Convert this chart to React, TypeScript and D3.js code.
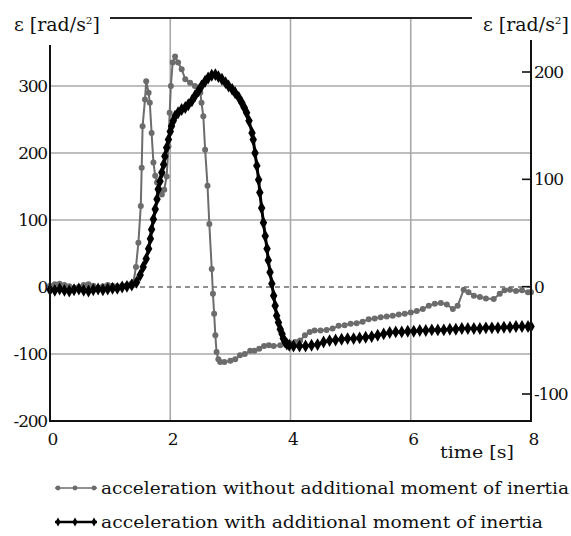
import React from "react";
import * as d3 from "d3";

const timeWithout = [0.0, 0.08, 0.16, 0.24, 0.32, 0.4, 0.48, 0.56, 0.64, 0.72, 0.8, 0.88, 0.96, 1.04, 1.12, 1.2, 1.28, 1.35, 1.39, 1.43, 1.47, 1.51, 1.525, 1.54, 1.58, 1.6, 1.64, 1.66, 1.69, 1.72, 1.75, 1.78, 1.82, 1.86, 1.9, 1.94, 1.97, 1.99, 2.01, 2.04, 2.08, 2.13, 2.19, 2.25, 2.33, 2.41, 2.5, 2.52, 2.55, 2.58, 2.62, 2.65, 2.69, 2.71, 2.73, 2.75, 2.77, 2.8, 2.83, 2.9, 3.0, 3.08, 3.16, 3.24, 3.33, 3.4, 3.48, 3.56, 3.64, 3.72, 3.83, 3.92, 4.0, 4.08, 4.16, 4.24, 4.32, 4.4, 4.5, 4.6, 4.7, 4.8, 4.9, 5.0, 5.1, 5.2, 5.3, 5.4, 5.5, 5.6, 5.7, 5.8, 5.9, 6.0, 6.1, 6.2, 6.3, 6.4, 6.5, 6.6, 6.7, 6.78, 6.88, 6.96, 7.05, 7.15, 7.25, 7.38, 7.48, 7.56, 7.65, 7.75, 7.85, 7.95, 8.0];
const accelWithout = [2, 4, 5, 3, 1, -1, 0, 3, 4, 2, -1, 1, 3, 2, 1, 2, 3, 5, 8, 30, 66, 121, 178, 240, 280, 307, 290, 275, 230, 186, 166, 156, 145, 138, 145, 165, 210, 260, 300, 335, 344, 335, 325, 310, 305, 300, 290, 275, 255, 205, 151, 94, 27, -10, -40, -72, -97, -108, -112, -112, -110, -108, -102, -100, -95, -95, -92, -88, -87, -88, -87, -86, -84, -82, -80, -72, -67, -65, -65, -64, -62, -58, -57, -55, -54, -52, -48, -47, -45, -44, -43, -41, -40, -38, -36, -33, -28, -25, -24, -26, -33, -28, -4, -8, -13, -15, -17, -18, -10, -5, -4, -6, -5, -8, -8];

const timeWith = [0.0, 0.08, 0.16, 0.24, 0.32, 0.4, 0.48, 0.56, 0.64, 0.72, 0.8, 0.88, 0.96, 1.04, 1.12, 1.2, 1.28, 1.36, 1.44, 1.5, 1.55, 1.6, 1.64, 1.67, 1.69, 1.72, 1.75, 1.78, 1.8, 1.83, 1.86, 1.89, 1.91, 1.94, 1.97, 2.0, 2.02, 2.05, 2.08, 2.13, 2.19, 2.25, 2.3, 2.36, 2.41, 2.47, 2.52, 2.58, 2.63, 2.69, 2.75, 2.8, 2.86, 2.92, 2.97, 3.03, 3.08, 3.14, 3.19, 3.23, 3.27, 3.31, 3.36, 3.38, 3.41, 3.44, 3.47, 3.49, 3.52, 3.55, 3.58, 3.61, 3.63, 3.66, 3.69, 3.72, 3.745, 3.77, 3.8, 3.83, 3.86, 3.88, 3.91, 3.94, 3.98, 4.05, 4.15, 4.25, 4.35, 4.45, 4.55, 4.65, 4.75, 4.85, 4.95, 5.05, 5.15, 5.25, 5.35, 5.45, 5.55, 5.65, 5.75, 5.85, 5.95, 6.05, 6.15, 6.25, 6.35, 6.45, 6.55, 6.65, 6.75, 6.85, 6.95, 7.05, 7.15, 7.25, 7.35, 7.45, 7.55, 7.65, 7.75, 7.85, 7.95, 8.0];
const accelWith = [-4, -5, -3, -5, -6, -4, -3, -5, -6, -4, -3, -4, -3, -2, -2, 0, 1, 3, 7, 18, 30, 42, 57, 72, 86, 101, 116, 131, 146, 158, 171, 183, 195, 208, 220, 232, 240, 248, 255, 260, 265, 268, 272, 278, 285, 293, 300, 307, 312, 316, 317, 314, 310, 305, 300, 295, 290, 283, 275, 268, 260, 248, 230, 220, 200, 181, 160, 141, 118, 96, 76, 57, 40, 22, 5, -13, -28, -43, -53, -63, -70, -77, -82, -85, -87, -88, -88, -88, -87, -86, -82, -80, -79, -78, -77, -77, -76, -75, -74, -72, -70, -68, -67, -67, -66, -66, -65, -65, -64, -64, -64, -63, -63, -62, -62, -62, -62, -61, -61, -61, -60, -60, -59, -59, -59, -59];

const xTicks = [0, 2, 4, 6, 8];
const leftTicks = [300, 200, 100, 0, -100, -200];
const leftGrid = [300, 200, 100, -100];
const rightTicks = [200, 100, 0, -100];
const legendLabels = [
  "acceleration without additional moment of inertia",
  "acceleration with additional moment of inertia",
];

const FONT = "DejaVu Serif, Liberation Serif, serif";
const GRAY = "#6c6c6c";
const GRID = "#a8a8a8";

export default function App() {
  const x = d3.scaleLinear().domain([0, 8]).range([50, 531]);
  const yL = d3.scaleLinear().domain([-200, 300]).range([421, 86]);
  const yR = d3.scaleLinear().domain([-100, 200]).range([394, 72]);

  const seriesWithout = timeWithout.map((t, i) => [t, accelWithout[i]] as [number, number]);
  const seriesWith = timeWith.map((t, i) => [t, accelWith[i]] as [number, number]);

  const line = d3
    .line<[number, number]>()
    .x((d) => x(d[0]))
    .y((d) => yL(d[1]));

  const diamond = d3.symbol().type(d3.symbolDiamond).size(48)() as string;
  const smallDiamond = d3.symbol().type(d3.symbolDiamond).size(24)() as string;

  const plotTop = 18;
  const plotBottom = yL(-200);
  const xl = x(0);
  const xr = x(8);
  const ts = { fontFamily: FONT };

  return (
    <svg
      width={571}
      height={536}
      style={{ position: "absolute", left: 0, top: 0, background: "#fff", fontFamily: FONT }}
    >
      <rect x={0} y={0} width={571} height={536} fill="#fff" />
      {xTicks.slice(1, -1).map((t) => (
        <line key={"vg" + t} x1={x(t)} x2={x(t)} y1={plotTop} y2={plotBottom} stroke={GRID} strokeWidth={1.6} />
      ))}
      {leftGrid.map((v) => (
        <line key={"hg" + v} x1={xl} x2={xr} y1={yL(v)} y2={yL(v)} stroke={GRID} strokeWidth={1.6} />
      ))}
      <line x1={xl} x2={xr} y1={yL(0)} y2={yL(0)} stroke={GRAY} strokeWidth={1.6} strokeDasharray="5,4" />

      <path d={line(seriesWithout) as string} fill="none" stroke={GRAY} strokeWidth={2} />
      {seriesWithout.map((d, i) => (
        <circle key={"gw" + i} cx={x(d[0])} cy={yL(d[1])} r={3} fill={GRAY} />
      ))}

      <path d={line(seriesWith) as string} fill="none" stroke="#000" strokeWidth={3} />
      {seriesWith.map((d, i) => (
        <path key={"bw" + i} d={diamond} transform={`translate(${x(d[0])},${yL(d[1])})`} fill="#000" />
      ))}

      <line x1={xl} x2={xl} y1={45} y2={plotBottom + 1} stroke="#111" strokeWidth={2} />
      <line x1={xr} x2={xr} y1={40} y2={plotBottom + 1} stroke="#111" strokeWidth={2} />
      <line x1={xl} x2={xr} y1={plotBottom} y2={plotBottom} stroke="#111" strokeWidth={2} />
      <line x1={110} x2={472} y1={plotTop} y2={plotTop} stroke="#222" strokeWidth={2} />

      {leftTicks.map((v) => (
        <text key={"lt" + v} style={ts} x={47} y={yL(v) + 6} textAnchor="end" fontSize={17} fill="#111" letterSpacing={-1.2}>
          {v}
        </text>
      ))}
      {rightTicks.map((v) => (
        <g key={"rt" + v}>
          <line x1={xr - 9} x2={xr} y1={yR(v)} y2={yR(v)} stroke="#111" strokeWidth={1.6} />
          <text style={ts} x={xr + 3} y={yR(v) + 6} fontSize={17} fill="#111" letterSpacing={-1.2}>
            {v}
          </text>
        </g>
      ))}
      {xTicks.map((t) => (
        <text key={"xt" + t} style={ts} x={x(t) + 3} y={445} textAnchor="middle" fontSize={17} fill="#111">
          {t}
        </text>
      ))}
      <text style={ts} x={440} y={458} fontSize={17} fill="#111" textLength={74} lengthAdjust="spacingAndGlyphs">
        time [s]
      </text>

      <text style={ts} x={14} y={31} fontSize={18} fill="#111" textLength={86} lengthAdjust="spacingAndGlyphs">
        ε [rad/s<tspan dy={-7} fontSize={10}>2</tspan>
        <tspan dy={7}>]</tspan>
      </text>
      <text style={ts} x={483} y={31} fontSize={18} fill="#111" textLength={86} lengthAdjust="spacingAndGlyphs">
        ε [rad/s<tspan dy={-7} fontSize={10}>2</tspan>
        <tspan dy={7}>]</tspan>
      </text>

      {legendLabels.map((label, i) => {
        const ly = 488 + i * 34;
        const color = i === 0 ? GRAY : "#000";
        return (
          <g key={"lg" + i}>
            <line x1={55} x2={97} y1={ly} y2={ly} stroke={color} strokeWidth={i === 0 ? 1.6 : 2.4} />
            {[58, 75, 94].map((mx) =>
              i === 0 ? (
                <circle key={mx} cx={mx} cy={ly} r={2.4} fill={color} />
              ) : (
                <path key={mx} d={smallDiamond} transform={`translate(${mx},${ly})`} fill={color} />
              )
            )}
            <text
              style={ts}
              x={101}
              y={ly + 6}
              fontSize={17}
              fill="#111"
              textLength={i === 0 ? 468 : 442}
              lengthAdjust="spacingAndGlyphs"
            >
              {label}
            </text>
          </g>
        );
      })}
    </svg>
  );
}
